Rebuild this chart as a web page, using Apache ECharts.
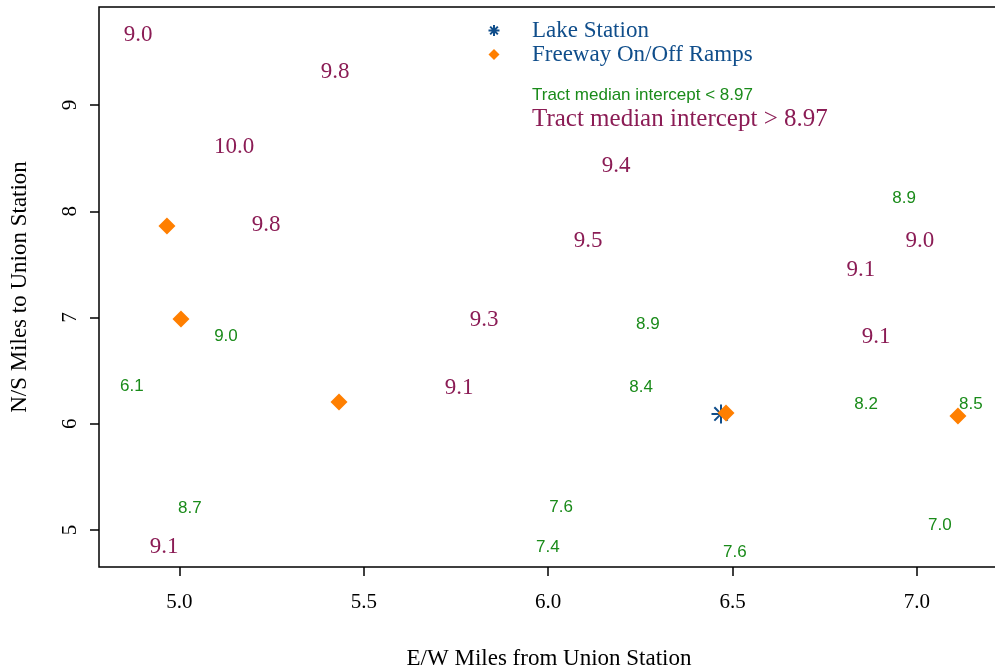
<!DOCTYPE html>
<html>
<head>
<meta charset="utf-8">
<script src="https://cdn.jsdelivr.net/npm/echarts@6/dist/echarts.min.js"></script>
<style>
  html, body { margin: 0; padding: 0; background: #fff; }
  #chart { width: 995px; height: 670px; }
</style>
</head>
<body>
<div id="chart"></div>
<script>
// Census tracts: [E/W miles, N/S miles, median intercept]
const tractsLow = [
  [6.965, 8.144, 8.9],
  [5.126, 6.845, 9.0],
  [4.871, 6.374, 6.1],
  [6.270, 6.958, 8.9],
  [6.252, 6.365, 8.4],
  [6.862, 6.205, 8.2],
  [7.146, 6.205, 8.5],
  [5.028, 5.226, 8.7],
  [6.035, 5.235, 7.6],
  [5.999, 4.859, 7.4],
  [6.506, 4.812, 7.6],
  [7.062, 5.066, 7.0]
];
const tractsHigh = [
  [4.888, 9.678, 9.0],
  [5.422, 9.329, 9.8],
  [5.148, 8.624, 10.0],
  [5.235, 7.889, 9.8],
  [6.184, 8.445, 9.4],
  [6.108, 7.739, 9.5],
  [5.826, 6.995, 9.3],
  [5.758, 6.355, 9.1],
  [7.008, 7.739, 9.0],
  [6.848, 7.466, 9.1],
  [6.889, 6.835, 9.1],
  [4.958, 4.859, 9.1]
];
const lakeStation = [[6.4685, 6.092]];
const ramps = [
  [4.966, 7.861],
  [5.004, 6.986],
  [5.4325, 6.205],
  [6.482, 6.101],
  [7.111, 6.073]
];
const xTicks = [5.0, 5.5, 6.0, 6.5, 7.0];
const yTicks = [5, 6, 7, 8, 9];

const NAVY = '#104E8B';
const ORANGE = '#FF7F00';
const GREEN = '#1A8B1A';
const MAROON = '#8B1C55';
const SERIF = '"Liberation Serif", "Times New Roman", serif';
const SANS = '"Liberation Sans", Arial, sans-serif';
const ASTERISK = 'path://M10,0L10,20M0,10L20,10M3,3L17,17M17,3L3,17';
const DIAMOND = 'path://M10,0L20,10L10,20L0,10Z';

const chart = echarts.init(document.getElementById('chart'), null, { renderer: 'canvas' });

const labelSeries = (name, data, color, font, size) => ({
  name, type: 'scatter', data,
  symbol: 'circle', symbolSize: 1,
  itemStyle: { color: 'rgba(0,0,0,0)', opacity: 1 },
  label: {
    show: true, position: 'inside', offset: [0, 2], opacity: 1,
    formatter: p => p.value[2].toFixed(1),
    color, fontFamily: font, fontSize: size
  },
  emphasis: { disabled: true },
  silent: true
});

chart.setOption({
  animation: false,
  backgroundColor: '#fff',
  grid: {
    left: 99, top: 7, width: 900, height: 560,
    outerBoundsMode: 'none', containLabel: false,
    show: true, borderColor: '#000', borderWidth: 1.5, backgroundColor: 'transparent'
  },
  xAxis: {
    type: 'value', min: 4.7817, max: 7.2224,
    name: 'E/W Miles from Union Station', nameLocation: 'middle', nameGap: 80,
    nameTextStyle: { fontFamily: SERIF, fontSize: 23, color: '#000' },
    axisLine: { show: false },
    splitLine: { show: false },
    axisTick: { show: true, length: 9, customValues: xTicks, lineStyle: { color: '#000', width: 1.5 } },
    axisLabel: {
      customValues: xTicks, margin: 25,
      formatter: v => v.toFixed(1),
      fontFamily: SERIF, fontSize: 21, color: '#000'
    }
  },
  yAxis: {
    type: 'value', min: 4.6518, max: 9.9224,
    name: 'N/S Miles to Union Station', nameLocation: 'middle', nameGap: 68,
    nameTextStyle: { fontFamily: SERIF, fontSize: 23, color: '#000' },
    axisLine: { show: false },
    splitLine: { show: false },
    axisTick: { show: true, length: 9, customValues: yTicks, lineStyle: { color: '#000', width: 1.5 } },
    axisLabel: {
      customValues: yTicks, margin: 18, rotate: 90,
      formatter: v => String(v),
      fontFamily: SERIF, fontSize: 21, color: '#000'
    }
  },
  legend: [
    {
      orient: 'vertical', left: 481, top: 14,
      itemWidth: 66, itemHeight: 11, itemGap: 1,
      selectedMode: false,
      textStyle: { fontFamily: SERIF, fontSize: 23, color: NAVY },
      data: [
        { name: 'Lake Station', icon: ASTERISK,
          itemStyle: { color: 'none', borderColor: NAVY, borderWidth: 2, opacity: 1 } },
        { name: 'Freeway On/Off Ramps', icon: DIAMOND,
          itemStyle: { color: ORANGE, opacity: 1 } }
      ]
    },
    {
      orient: 'vertical', left: 456, top: 82,
      itemWidth: 66, itemHeight: 11, itemGap: 3,
      selectedMode: false,
      data: [
        { name: 'Tract median intercept < 8.97', icon: 'none',
          textStyle: { fontFamily: SANS, fontSize: 17, color: GREEN } },
        { name: 'Tract median intercept > 8.97', icon: 'none',
          textStyle: { fontFamily: SERIF, fontSize: 25, color: MAROON } }
      ]
    }
  ],
  series: [
    labelSeries('Tract median intercept < 8.97', tractsLow, GREEN, SANS, 17),
    labelSeries('Tract median intercept > 8.97', tractsHigh, MAROON, SERIF, 23),
    {
      name: 'Lake Station', type: 'scatter', data: lakeStation,
      symbol: ASTERISK, symbolSize: 19,
      itemStyle: { color: 'none', borderColor: NAVY, borderWidth: 2, opacity: 1 },
      silent: true
    },
    {
      name: 'Freeway On/Off Ramps', type: 'scatter', data: ramps,
      symbol: 'diamond', symbolSize: 17,
      itemStyle: { color: ORANGE, opacity: 1 },
      silent: true
    }
  ]
});
</script>
</body>
</html>
